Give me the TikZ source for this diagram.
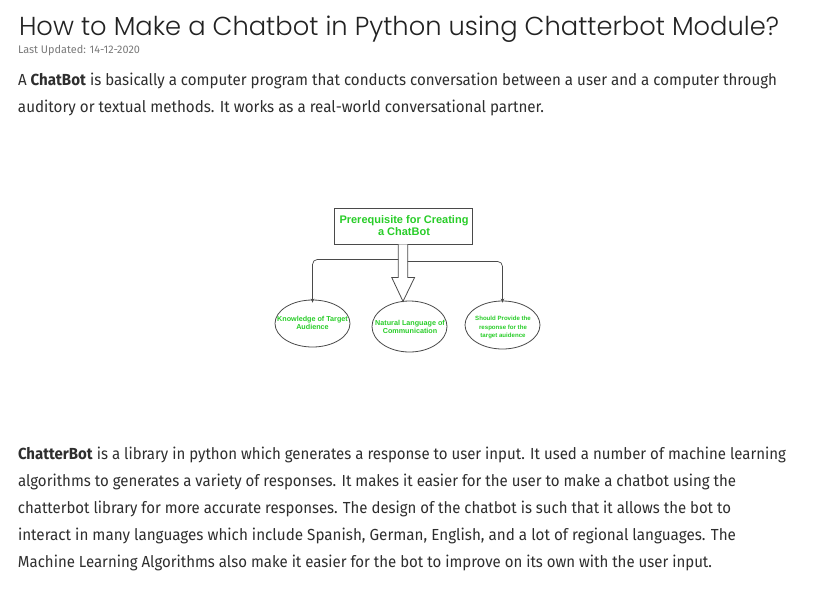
\documentclass[tikz,border=0pt]{standalone}
\usepackage{fontspec}
\usepackage{graphicx}
\setmainfont{Fira Sans}
\newfontfamily\titlefont{Poppins Light}
\newfontfamily\diafont{Liberation Sans}
\usetikzlibrary{arrows.meta,shapes.geometric,calc}
\definecolor{titlecol}{HTML}{222222}
\definecolor{bodycol}{HTML}{2E2E2E}
\definecolor{datecol}{HTML}{7A7A7A}
\definecolor{diagreen}{RGB}{40,205,40}
\definecolor{dialine}{HTML}{4A4A4A}
\newcommand{\fitto}[2]{\resizebox{#1}{\height}{#2}}
\begin{document}
\begin{tikzpicture}[x=1pt,y=-1pt,
  txt/.style={anchor=base west,inner sep=0pt,outer sep=0pt},
  titletxt/.style={txt,text=titlecol,font=\titlefont\fontsize{26}{26}\selectfont},
  datetxt/.style={txt,text=datecol,font=\fontsize{11}{11}\selectfont},
  bodytxt/.style={txt,text=bodycol,font=\fontsize{16}{16}\selectfont},
  headbox/.style={draw=dialine,line width=0.8pt,minimum width=138pt,minimum height=36pt,inner sep=0pt},
  oval/.style={ellipse,draw=dialine,line width=0.8pt,minimum width=75pt,minimum height=47pt,inner sep=0pt},
  boxtxt/.style={inner sep=0pt,align=center,text=diagreen,font=\diafont\bfseries\fontsize{11}{12}\selectfont},
  ovaltxt/.style={inner sep=0pt,align=center,text=diagreen,font=\diafont\bfseries\fontsize{7.2}{8}\selectfont},
  smallovaltxt/.style={inner sep=0pt,align=center,text=diagreen,font=\diafont\bfseries\fontsize{6.1}{8.5}\selectfont},
  conn/.style={draw=dialine,line width=0.7pt,rounded corners=5pt,-{Stealth[length=4pt,width=3.6pt]}},
  blockarrow/.style={draw=dialine,line width=0.8pt,fill=white}
]
\useasboundingbox[fill=white] (0,0) rectangle (816,590);

% header texts
\node[titletxt] (title) at (19,35) {\fitto{760pt}{How to Make a Chatbot in Python using Chatterbot Module?}};
\node[datetxt] (date) at (18,53) {\fitto{122pt}{Last Updated: 14-12-2020}};
\node[bodytxt] (p1a) at (18,85) {\fitto{759pt}{A \textbf{ChatBot} is basically a computer program that conducts conversation between a user and a computer through}};
\node[bodytxt] (p1b) at (18,112) {\fitto{526pt}{auditory or textual methods. It works as a real-world conversational partner.}};

% diagram
\node[headbox] (box) at (403,226) {};
\node[boxtxt] (boxt) at (404,226) {Prerequisite for Creating\\a ChatBot};

\node[oval] (e1) at (312.5,323.5) {};
\node[oval,minimum height=51pt] (e2) at (409.5,326.5) {};
\node[oval,minimum height=48pt] (e3) at (502.5,325) {};
\node[ovaltxt] (e1t) at (312.5,323) {Knowledge of Target\\Audience};
\node[ovaltxt] (e2t) at (410,327) {Natural Language of\\Communication};
\node[smallovaltxt] (e3t) at (503,327.5) {Should Provide the\\response for the\\target auidence};

% hollow block arrow
\draw[blockarrow] ($(box.south)+(-4.7,0)$) coordinate (sl0) -- ++(0,33) -- ++(-6.6,0)
  -- ($(box.south)+(0,57)$) coordinate (tip) -- ++(11.6,-24) -- ++(-6.9,0) -- ($(box.south)+(4.7,0)$) coordinate (sr0);
\coordinate (sl) at ($(sl0)+(0,15)$);
\coordinate (sr) at ($(sr0)+(0,17)$);
\draw[conn] (sl) -| ([yshift=-3pt]e1.north);
\draw[conn] (sr) -| ([yshift=-2pt]e3.north);

% lower paragraph
\node[bodytxt] (p2a) at (18,459) {\fitto{768pt}{\textbf{ChatterBot} is a library in python which generates a response to user input. It used a number of machine learning}};
\node[bodytxt] (p2b) at (18,486) {\fitto{718pt}{algorithms to generates a variety of responses. It makes it easier for the user to make a chatbot using the}};
\node[bodytxt] (p2c) at (18,513) {\fitto{713pt}{chatterbot library for more accurate responses. The design of the chatbot is such that it allows the bot to}};
\node[bodytxt] (p2d) at (18,540) {\fitto{718pt}{interact in many languages which include Spanish, German, English, and a lot of regional languages. The}};
\node[bodytxt] (p2e) at (18,567) {\fitto{694pt}{Machine Learning Algorithms also make it easier for the bot to improve on its own with the user input.}};
\end{tikzpicture}
\end{document}
